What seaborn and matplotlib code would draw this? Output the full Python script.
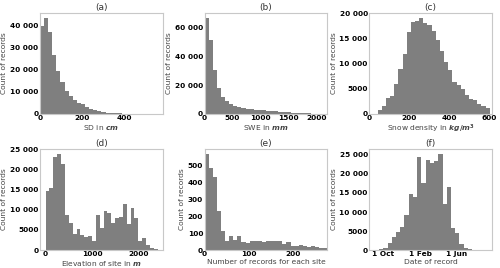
import numpy as np
import pandas as pd
import seaborn as sns
import matplotlib
matplotlib.use("Agg")
import matplotlib.pyplot as plt
from matplotlib.ticker import FuncFormatter, MultipleLocator

# histogram counts (bin ranges: start, stop, number of bins)
sd_bins = (0, 585, 30)
sd_counts = [39800, 43500, 37000, 26800, 19500, 14600, 10300, 8000, 6100, 5000,
             4300, 3200, 2400, 1700, 1200, 900, 600, 450, 300, 200,
             150, 100, 60, 30, 20, 10, 5, 5, 3, 2]

swe_bins = (0, 2200, 30)
swe_counts = [67000, 51600, 30900, 18100, 12100, 9300, 7000, 5800, 5100, 4200,
              3700, 3300, 3000, 2800, 2500, 2300, 2000, 1800, 1500, 1300,
              1100, 900, 750, 600, 450, 350, 250, 150, 100, 50]

dens_bins = (42, 604, 27)
dens_counts = [800, 1500, 3100, 3500, 5900, 9000, 12000, 16200, 18200, 18500,
               19100, 18000, 17600, 16500, 14700, 12500, 10300, 8700, 6300, 5700,
               4900, 3700, 3000, 2700, 2000, 1500, 1200]

elev_bins = (0, 2400, 29)
elev_counts = [14750, 15400, 23100, 23900, 21400, 8600, 6800, 3900, 5250, 3750,
               3200, 3500, 2300, 8600, 5400, 9800, 9200, 6800, 7900, 8100,
               11400, 6400, 10400, 7900, 2250, 2900, 1250, 600, 150]

nrec_bins = (0, 277, 30)
nrec_counts = [565, 484, 431, 231, 112, 55, 82, 59, 82, 45,
               43, 51, 55, 51, 49, 53, 51, 51, 51, 37,
               45, 24, 25, 31, 22, 20, 22, 16, 14, 10]

# days relative to 1 Oct
date_bins = (-13, 295, 22)
date_counts = [260, 600, 1750, 3330, 4650, 5960, 9200, 14650, 14030, 24560,
               17540, 23680, 22800, 23500, 25260, 12000, 16500, 5900, 4560, 1580,
               600, 180]
date_ticks = [0, 123, 243]
date_labels = ["1 Oct", "1 Feb", "1 Jun"]

panels = [
    ("(a)", "SD in $cm$", sd_bins, sd_counts, (0, 585), 200, 10000),
    ("(b)", "SWE in $mm$", swe_bins, swe_counts, (0, 2200), 500, 20000),
    ("(c)", "Snow density in $kg/m^3$", dens_bins, dens_counts, (0, 615), 200, 5000),
    ("(d)", "Elevation of site in $m$", elev_bins, elev_counts, (-120, 2510), 1000, 5000),
    ("(e)", "Number of records for each site", nrec_bins, nrec_counts, (0, 277), 100, 100),
    ("(f)", "Date of record", date_bins, date_counts, (-46, 361), None, 5000),
]

sns.set_style("white")
plt.rcParams["font.family"] = ["DejaVu Sans"]
plt.rcParams["mathtext.fontset"] = "custom"
plt.rcParams["mathtext.it"] = "DejaVu Sans:bold:italic"
plt.rcParams["mathtext.rm"] = "DejaVu Sans:bold"
plt.rcParams["mathtext.bf"] = "DejaVu Sans:bold"


def fmt(v, pos):
    v = int(round(v))
    if abs(v) >= 10000:
        return f"{v:,}".replace(",", " ")
    return str(v)


fig, axes = plt.subplots(nrows=2, ncols=3, figsize=(5, 2.68), dpi=100)
plt.subplots_adjust(left=0.08, right=0.984, top=0.9515, bottom=0.067,
                    wspace=0.34, hspace=0.35)

for ax, (title, xlabel, b, counts, xlim, xstep, ystep) in zip(axes.flat, panels):
    width = (b[1] - b[0]) / b[2]
    centers = b[0] + width * (np.arange(b[2]) + 0.5)
    df = pd.DataFrame({"x": centers, "n": counts})
    sns.histplot(data=df, x="x", weights="n", bins=b[2], binrange=(b[0], b[1]),
                 ax=ax, color="#7f7f7f", alpha=1, linewidth=0)
    ax.set_xlim(*xlim)
    ax.set_title(title, fontsize=6.5, color="#333333", pad=2)
    ax.set_xlabel(xlabel, fontsize=5.4, color="#444444", labelpad=1)
    ax.set_ylabel("Count of records", fontsize=5.4, color="#444444", labelpad=2)
    if xstep:
        ax.xaxis.set_major_locator(MultipleLocator(xstep))
    else:
        ax.set_xticks(date_ticks)
        ax.set_xticklabels(date_labels)
    ax.yaxis.set_major_locator(MultipleLocator(ystep))
    ax.yaxis.set_major_formatter(FuncFormatter(fmt))
    ax.tick_params(labelsize=5.3, pad=1, length=0, labelcolor="black")
    for lab in ax.get_xticklabels() + ax.get_yticklabels():
        lab.set_fontweight("bold")
    for s in ax.spines.values():
        s.set_color("#c8c8c8")
        s.set_linewidth(0.8)

plt.savefig("out.png", dpi=100)
